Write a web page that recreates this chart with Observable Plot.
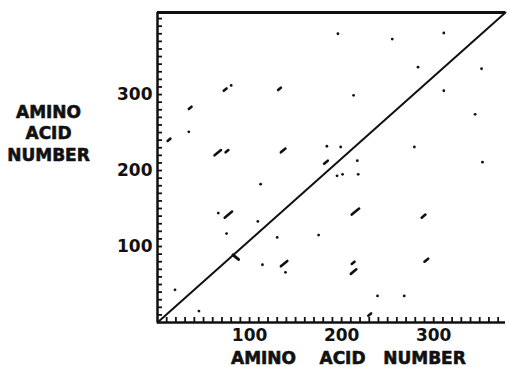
<!DOCTYPE html>
<html><head><meta charset="utf-8">
<script src="https://cdn.jsdelivr.net/npm/d3@7"></script>
<script src="https://cdn.jsdelivr.net/npm/@observablehq/plot@0.6"></script>
<style>
html,body{margin:0;padding:0;background:#fff;}
</style></head><body><div id="chart"></div>
<script>
// Sequence lengths (amino acids) for the two axes
const seqLengthX = 378;
const seqLengthY = 408;

// Tick labels
const tickLabels = [100, 200, 300];
const minorStep = 10;

// Axis titles
const yTitle = "AMINO\nACID\nNUMBER";
const xTitleWords = ["AMINO", "ACID", "NUMBER"];

// Single-residue matches (dots)
const dotX = [196, 255, 311, 283, 352, 80, 213, 311, 345, 34, 184, 199, 217, 279, 353, 195, 201, 218, 112, 66, 109, 75, 130, 175, 114, 139, 19, 45, 239, 268];
const dotY = [380, 373, 381, 336, 334, 312, 299, 305, 274, 251, 232, 231, 213, 231, 211, 193, 195, 195, 182, 144, 133, 117, 112, 115, 76, 66, 43, 15, 35, 35];

// Runs of matching residues (start positions and run length)
const runX = [72, 131, 34, 11, 62, 74, 134, 181, 73, 211, 287, 134, 211, 210, 290, 229];
const runY = [305, 306, 281, 239, 220, 224, 224, 209, 138, 142, 138, 74, 77, 64, 80, 9];
const runLen = [3, 3, 3, 3, 7, 3, 5, 4, 8, 8, 4, 7, 3, 6, 4, 3];

// Crossing (inverted) match
const crossX = [85];
const crossY = [86];
const crossLen = [6];

const ink = "#111";
const runs = runX.map((x, i) => ({x1: x, y1: runY[i], x2: x + runLen[i], y2: runY[i] + runLen[i]}));
const crosses = crossX.map((x, i) => ({x1: x - crossLen[i] / 2, y1: crossY[i] + crossLen[i] / 2, x2: x + crossLen[i] / 2, y2: crossY[i] - crossLen[i] / 2}));
const dots = dotX.map((x, i) => ({x, y: dotY[i]}));
const identity = [{x: 0, y: 0}, {x: seqLengthX, y: seqLengthY}];
const minorX = d3.range(minorStep, seqLengthX, minorStep);
const minorY = d3.range(minorStep, seqLengthY, minorStep);

const W = 507, H = 367, mL = 157, mR = 2, mT = 12, mB = 45;
const tickLen = 5;
const font = {fontSize: 17, fontWeight: "bold", fill: ink, stroke: ink, strokeWidth: 0.6};
const wordOffsets = [106, 185, 267];

const chart = Plot.plot({
  width: W,
  height: H,
  marginLeft: mL,
  marginRight: mR,
  marginTop: mT,
  marginBottom: mB,
  style: {fontFamily: "DejaVu Sans", background: "#fff", color: ink},
  x: {domain: [0, seqLengthX]},
  y: {domain: [0, seqLengthY]},
  marks: [
    Plot.axisX(tickLabels, {tickSize: 0, tickPadding: 6, label: null, ...font}),
    Plot.axisY(tickLabels, {tickSize: 0, tickPadding: 5, label: null, ...font}),
    // inward minor ticks
    Plot.tickX(minorX, {x: d => d, stroke: ink, strokeWidth: 1.8, insetTop: (H - mT - mB) - tickLen, insetBottom: 0}),
    Plot.tickY(minorY, {y: d => d, stroke: ink, strokeWidth: 1.8, insetLeft: 0, insetRight: (W - mL - mR) - tickLen}),
    Plot.ruleX([0], {stroke: ink, strokeWidth: 2.5}),
    Plot.ruleY([0], {stroke: ink, strokeWidth: 2.5}),
    Plot.ruleY([seqLengthY], {stroke: ink, strokeWidth: 3}),
    Plot.line(identity, {x: "x", y: "y", stroke: ink, strokeWidth: 2}),
    Plot.link(runs, {x1: "x1", y1: "y1", x2: "x2", y2: "y2", stroke: ink, strokeWidth: 2.6, strokeLinecap: "round"}),
    Plot.link(crosses, {x1: "x1", y1: "y1", x2: "x2", y2: "y2", stroke: ink, strokeWidth: 3, strokeLinecap: "round"}),
    Plot.dot(dots, {x: "x", y: "y", r: 1.4, fill: ink}),
    Plot.text([yTitle], {text: d => d, frameAnchor: "left", dx: -109, dy: -35, lineHeight: 1.27, textAnchor: "middle", ...font}),
    ...xTitleWords.map((w, i) => Plot.text([w], {text: d => d, frameAnchor: "bottom-left", dx: wordOffsets[i], dy: 41, textAnchor: "middle", ...font}))
  ]
});
document.getElementById("chart").appendChild(chart);
</script>
</body></html>
